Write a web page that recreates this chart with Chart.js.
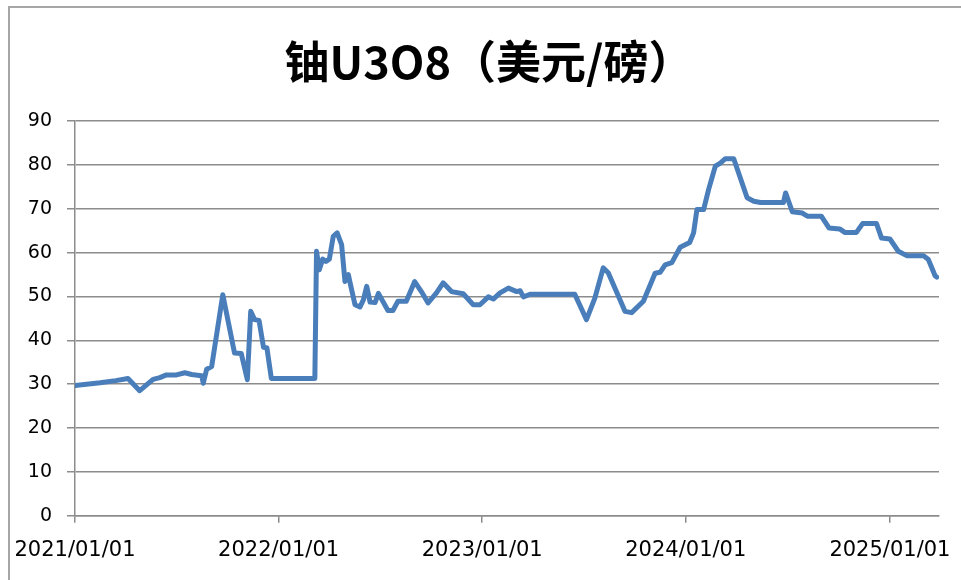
<!DOCTYPE html>
<html>
<head>
<meta charset="utf-8">
<script src="https://cdn.jsdelivr.net/npm/chart.js@4/dist/chart.umd.min.js"></script>
<style>
  html, body { margin: 0; padding: 0; background: #fff; }
  #wrap { position: relative; width: 961px; height: 580px; overflow: hidden; background: #fff; }
  #frame { position: absolute; left: 8px; top: 6px; width: 1000px; height: 1000px;
           border-top: 2px solid #a6a6a6; border-left: 2px solid #a6a6a6; pointer-events: none; }
  canvas { position: absolute; left: 0; top: 0; }
</style>
</head>
<body>
<div id="wrap">
  <canvas id="c" width="961" height="580"></canvas>
  <div id="frame"></div>
</div>
<script>
// ---- data ----
const chartTitle = '铀U3O8（美元/磅）';
const dates = [
  '2021-01-01','2021-02-15','2021-03-15','2021-04-06','2021-04-27','2021-05-21','2021-06-02','2021-06-14',
  '2021-07-02','2021-07-17','2021-07-29','2021-08-16','2021-08-19','2021-08-25','2021-09-03','2021-09-23',
  '2021-10-14','2021-10-26','2021-11-06','2021-11-12','2021-11-19','2021-11-27','2021-12-05','2021-12-11',
  '2021-12-19','2022-03-07','2022-03-10','2022-03-15','2022-03-21','2022-03-27','2022-04-02','2022-04-09',
  '2022-04-16','2022-04-24','2022-04-30','2022-05-06','2022-05-09','2022-05-18','2022-05-27','2022-06-02',
  '2022-06-08','2022-06-14','2022-06-23','2022-06-29','2022-07-16','2022-07-25','2022-08-03','2022-08-18',
  '2022-09-02','2022-09-14','2022-09-26','2022-10-11','2022-10-23','2022-11-07','2022-11-28','2022-12-16',
  '2022-12-28','2023-01-12','2023-01-21','2023-02-02','2023-02-17','2023-03-04','2023-03-10','2023-03-16',
  '2023-03-28','2023-06-16','2023-07-07','2023-07-22','2023-08-06','2023-08-15','2023-09-14','2023-09-26',
  '2023-10-17','2023-11-07','2023-11-16','2023-11-25','2023-12-07','2023-12-22','2024-01-08','2024-01-15',
  '2024-01-21','2024-02-02','2024-02-11','2024-02-23','2024-03-03','2024-03-12','2024-03-27','2024-04-20',
  '2024-05-02','2024-05-14','2024-06-24','2024-06-28','2024-07-10','2024-07-28','2024-08-06','2024-08-31',
  '2024-09-14','2024-10-03','2024-10-12','2024-11-02','2024-11-13','2024-12-08','2024-12-17','2025-01-01',
  '2025-01-16','2025-01-31','2025-03-02','2025-03-11','2025-03-23','2025-03-26'
];
const prices = [
  29.7, 30.3, 30.8, 31.3, 28.5, 31.1, 31.5, 32.1,
  32.1, 32.6, 32.2, 31.9, 30.2, 33.4, 34.0, 50.4,
  37.1, 37.0, 31.0, 46.6, 44.7, 44.5, 38.4, 38.3,
  31.3, 31.3, 60.3, 56.1, 58.5, 58.0, 58.5, 63.7,
  64.5, 61.8, 53.4, 55.0, 53.2, 48.1, 47.6, 49.2,
  52.3, 48.7, 48.6, 50.7, 46.8, 46.8, 48.9, 48.9,
  53.4, 51.1, 48.5, 50.8, 53.1, 51.1, 50.6, 48.1,
  48.1, 49.9, 49.4, 50.8, 51.9, 51.1, 51.3, 49.9,
  50.5, 50.5, 44.7, 49.6, 56.5, 55.4, 46.6, 46.3,
  48.9, 55.3, 55.5, 57.2, 57.7, 61.2, 62.3, 64.5,
  69.8, 69.8, 74.4, 79.7, 80.4, 81.4, 81.4, 72.5,
  71.7, 71.4, 71.4, 73.6, 69.3, 69.0, 68.3, 68.3,
  65.6, 65.4, 64.6, 64.6, 66.6, 66.6, 63.3, 63.1,
  60.3, 59.3, 59.3, 58.4, 54.7, 54.4
];
const tickDates = ['2021-01-01','2022-01-01','2023-01-01','2024-01-01','2025-01-01'];
const tickLabels = ['2021/01/01','2022/01/01','2023/01/01','2024/01/01','2025/01/01'];
const axisEndDate = '2025-03-30';
const yTicks = [0, 10, 20, 30, 40, 50, 60, 70, 80, 90];

// ---- helpers ----
const DAY = 86400000;
const base = Date.UTC(2021, 0, 1);
function dayOf(s) { const p = s.split('-').map(Number); return Math.round((Date.UTC(p[0], p[1]-1, p[2]) - base) / DAY); }
const points = dates.map((d, i) => ({ x: dayOf(d), y: prices[i] }));
const tickDays = tickDates.map(dayOf);

const gridColor = '#8c8c8c';

new Chart(document.getElementById('c'), {
  type: 'line',
  data: {
    datasets: [{
      data: points,
      borderColor: '#4a7ebb',
      borderWidth: 5,
      pointRadius: 0,
      tension: 0,
      borderJoinStyle: 'round',
      borderCapStyle: 'round',
      fill: false
    }]
  },
  options: {
    responsive: false,
    animation: false,
    layout: { padding: { left: 17, right: 0, top: 0, bottom: 0 } },
    plugins: {
      legend: { display: false },
      tooltip: { enabled: false },
      title: {
        display: true,
        text: chartTitle,
        color: '#000',
        font: { family: "'Noto Sans CJK SC', sans-serif", size: 45, weight: 'bold', lineHeight: 1.2 },
        padding: { top: 35, bottom: 32 }
      }
    },
    scales: {
      x: {
        type: 'linear',
        min: 0,
        max: dayOf(axisEndDate),
        afterBuildTicks: (axis) => { axis.ticks = tickDays.map(v => ({ value: v })); },
        afterFit: (axis) => { axis.height = 64.3; axis.paddingLeft = 0; axis.paddingRight = 0; },
        ticks: {
          autoSkip: false,
          maxRotation: 0,
          padding: 15,
          color: '#000',
          font: { family: "'DejaVu Sans', sans-serif", size: 21 },
          callback: (v) => { const i = tickDays.indexOf(v); return i >= 0 ? tickLabels[i] : ''; }
        },
        grid: { drawOnChartArea: false, drawTicks: true, tickLength: 7, color: gridColor, lineWidth: 1.5 },
        border: { display: true, color: gridColor, width: 1.5 }
      },
      y: {
        min: 0,
        max: 90,
        afterBuildTicks: (axis) => { axis.ticks = yTicks.map(v => ({ value: v })); },
        afterFit: (axis) => { axis.width = 58; axis.paddingTop = 0; axis.paddingBottom = 0; },
        ticks: {
          padding: 15,
          color: '#000',
          font: { family: "'DejaVu Sans', sans-serif", size: 19 }
        },
        grid: { drawTicks: true, tickLength: 8, color: gridColor, lineWidth: 1.5 },
        border: { display: true, color: gridColor, width: 1.5 }
      },
      yR: {
        position: 'right',
        display: true,
        min: 0, max: 1,
        ticks: { display: false },
        grid: { display: false },
        border: { display: false },
        afterFit: (axis) => { axis.width = 22; axis.paddingTop = 0; axis.paddingBottom = 0; }
      }
    }
  }
});
</script>
</body>
</html>
